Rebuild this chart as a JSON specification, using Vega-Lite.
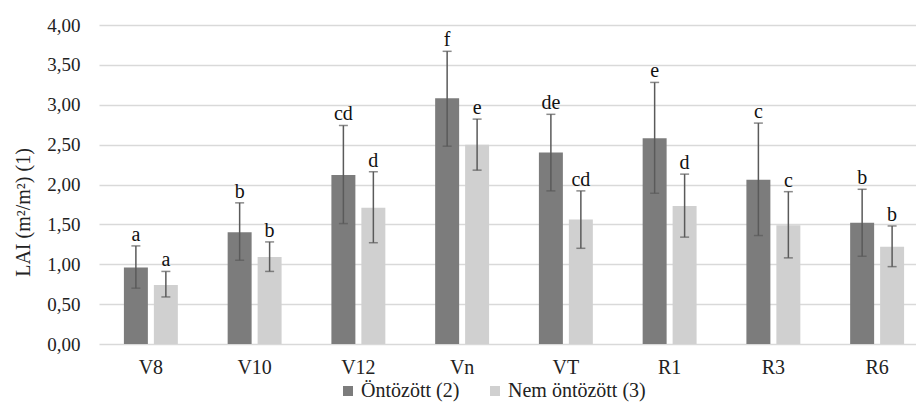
{
  "$schema": "https://vega.github.io/schema/vega-lite/v6.json",
  "width": 817,
  "height": 319,
  "autosize": "none",
  "padding": {"left": 99, "top": 25, "right": 0, "bottom": 59},
  "background": "white",
  "config": {
    "view": {"stroke": null},
    "font": "Liberation Serif",
    "legend": {"labelFont": "Liberation Serif", "labelFontSize": 20, "labelColor": "#222222"},
    "axis": {"labelFont": "Liberation Serif", "titleFont": "Liberation Serif"}
  },
  "data": {
    "values": [
      {"cat": "V8", "series": "Öntözött (2)", "value": 0.96, "lo": 0.70, "hi": 1.23, "letter": "a"},
      {"cat": "V8", "series": "Nem öntözött (3)", "value": 0.74, "lo": 0.59, "hi": 0.91, "letter": "a"},
      {"cat": "V10", "series": "Öntözött (2)", "value": 1.40, "lo": 1.05, "hi": 1.77, "letter": "b"},
      {"cat": "V10", "series": "Nem öntözött (3)", "value": 1.09, "lo": 0.91, "hi": 1.28, "letter": "b"},
      {"cat": "V12", "series": "Öntözött (2)", "value": 2.12, "lo": 1.51, "hi": 2.74, "letter": "cd"},
      {"cat": "V12", "series": "Nem öntözött (3)", "value": 1.71, "lo": 1.27, "hi": 2.16, "letter": "d"},
      {"cat": "Vn", "series": "Öntözött (2)", "value": 3.08, "lo": 2.48, "hi": 3.67, "letter": "f"},
      {"cat": "Vn", "series": "Nem öntözött (3)", "value": 2.50, "lo": 2.18, "hi": 2.82, "letter": "e"},
      {"cat": "VT", "series": "Öntözött (2)", "value": 2.40, "lo": 1.92, "hi": 2.88, "letter": "de"},
      {"cat": "VT", "series": "Nem öntözött (3)", "value": 1.56, "lo": 1.20, "hi": 1.92, "letter": "cd"},
      {"cat": "R1", "series": "Öntözött (2)", "value": 2.58, "lo": 1.89, "hi": 3.28, "letter": "e"},
      {"cat": "R1", "series": "Nem öntözött (3)", "value": 1.73, "lo": 1.34, "hi": 2.13, "letter": "d"},
      {"cat": "R3", "series": "Öntözött (2)", "value": 2.06, "lo": 1.36, "hi": 2.77, "letter": "c"},
      {"cat": "R3", "series": "Nem öntözött (3)", "value": 1.49, "lo": 1.08, "hi": 1.91, "letter": "c"},
      {"cat": "R6", "series": "Öntözött (2)", "value": 1.52, "lo": 1.10, "hi": 1.94, "letter": "b"},
      {"cat": "R6", "series": "Nem öntözött (3)", "value": 1.22, "lo": 0.97, "hi": 1.48, "letter": "b"}
    ]
  },
  "encoding": {
    "x": {
      "field": "cat",
      "type": "nominal",
      "sort": ["V8", "V10", "V12", "Vn", "VT", "R1", "R3", "R6"],
      "scale": {"range": [0, 830], "paddingInner": 0.48, "paddingOuter": 0.24},
      "axis": {
        "title": null,
        "labelAngle": 0,
        "labelFontSize": 20,
        "labelColor": "#222222",
        "labelPadding": 13,
        "ticks": false,
        "domain": false
      }
    },
    "xOffset": {
      "field": "series",
      "type": "nominal",
      "sort": ["Öntözött (2)", "Nem öntözött (3)"],
      "scale": {"paddingInner": 0.2, "paddingOuter": 0}
    }
  },
  "layer": [
    {
      "mark": {"type": "bar"},
      "encoding": {
        "y": {
          "field": "value",
          "type": "quantitative",
          "scale": {"domain": [0, 4]},
          "axis": {
            "title": "LAI (m²/m²) (1)",
            "titleFontSize": 20,
            "titleFontWeight": "normal",
            "titleColor": "#222222",
            "titleX": -66,
            "titleY": 187,
            "titleBaseline": "bottom",
            "titleAlign": "center",
            "values": [0, 0.5, 1, 1.5, 2, 2.5, 3, 3.5, 4],
            "labelOverlap": false,
            "labelExpr": "replace(format(datum.value, '.2f'), '.', ',')",
            "labelFontSize": 19,
            "labelColor": "#222222",
            "labelPadding": 19,
            "ticks": false,
            "domain": false,
            "grid": true,
            "gridColor": "#d9d9d9",
            "gridWidth": 1.5
          }
        },
        "color": {
          "field": "series",
          "type": "nominal",
          "sort": ["Öntözött (2)", "Nem öntözött (3)"],
          "scale": {"domain": ["Öntözött (2)", "Nem öntözött (3)"], "range": ["#7c7c7c", "#d0d0d0"]},
          "legend": {
            "title": null,
            "orient": "none",
            "direction": "horizontal",
            "legendX": 239,
            "legendY": 356,
            "symbolType": "square",
            "symbolSize": 100,
            "symbolStrokeWidth": 0,
            "labelFontSize": 20,
            "labelColor": "#222222",
            "labelOffset": 3,
            "columnPadding": 25
          }
        }
      }
    },
    {
      "mark": {"type": "rule", "color": "#5a5a5a", "strokeWidth": 1.5},
      "encoding": {
        "y": {"field": "lo", "type": "quantitative", "axis": {
            "title": "LAI (m²/m²) (1)",
            "titleFontSize": 20,
            "titleFontWeight": "normal",
            "titleColor": "#222222",
            "titleX": -66,
            "titleY": 187,
            "titleBaseline": "bottom",
            "titleAlign": "center",
            "values": [0, 0.5, 1, 1.5, 2, 2.5, 3, 3.5, 4],
            "labelOverlap": false,
            "labelExpr": "replace(format(datum.value, '.2f'), '.', ',')",
            "labelFontSize": 19,
            "labelColor": "#222222",
            "labelPadding": 19,
            "ticks": false,
            "domain": false,
            "grid": true,
            "gridColor": "#d9d9d9",
            "gridWidth": 1.5
          }},
        "y2": {"field": "hi"}
      }
    },
    {
      "mark": {"type": "tick", "color": "#5a5a5a", "thickness": 1.5, "size": 9},
      "encoding": {
        "y": {"field": "hi", "type": "quantitative", "axis": {
            "title": "LAI (m²/m²) (1)",
            "titleFontSize": 20,
            "titleFontWeight": "normal",
            "titleColor": "#222222",
            "titleX": -66,
            "titleY": 187,
            "titleBaseline": "bottom",
            "titleAlign": "center",
            "values": [0, 0.5, 1, 1.5, 2, 2.5, 3, 3.5, 4],
            "labelOverlap": false,
            "labelExpr": "replace(format(datum.value, '.2f'), '.', ',')",
            "labelFontSize": 19,
            "labelColor": "#222222",
            "labelPadding": 19,
            "ticks": false,
            "domain": false,
            "grid": true,
            "gridColor": "#d9d9d9",
            "gridWidth": 1.5
          }}
      }
    },
    {
      "mark": {"type": "tick", "color": "#5a5a5a", "thickness": 1.5, "size": 9},
      "encoding": {
        "y": {"field": "lo", "type": "quantitative", "axis": {
            "title": "LAI (m²/m²) (1)",
            "titleFontSize": 20,
            "titleFontWeight": "normal",
            "titleColor": "#222222",
            "titleX": -66,
            "titleY": 187,
            "titleBaseline": "bottom",
            "titleAlign": "center",
            "values": [0, 0.5, 1, 1.5, 2, 2.5, 3, 3.5, 4],
            "labelOverlap": false,
            "labelExpr": "replace(format(datum.value, '.2f'), '.', ',')",
            "labelFontSize": 19,
            "labelColor": "#222222",
            "labelPadding": 19,
            "ticks": false,
            "domain": false,
            "grid": true,
            "gridColor": "#d9d9d9",
            "gridWidth": 1.5
          }}
      }
    },
    {
      "mark": {"type": "text", "baseline": "alphabetic", "dy": -5, "fontSize": 20, "font": "Liberation Serif", "color": "#111111"},
      "encoding": {
        "y": {"field": "hi", "type": "quantitative", "axis": {
            "title": "LAI (m²/m²) (1)",
            "titleFontSize": 20,
            "titleFontWeight": "normal",
            "titleColor": "#222222",
            "titleX": -66,
            "titleY": 187,
            "titleBaseline": "bottom",
            "titleAlign": "center",
            "values": [0, 0.5, 1, 1.5, 2, 2.5, 3, 3.5, 4],
            "labelOverlap": false,
            "labelExpr": "replace(format(datum.value, '.2f'), '.', ',')",
            "labelFontSize": 19,
            "labelColor": "#222222",
            "labelPadding": 19,
            "ticks": false,
            "domain": false,
            "grid": true,
            "gridColor": "#d9d9d9",
            "gridWidth": 1.5
          }},
        "text": {"field": "letter"},
        "fontWeight": {
          "condition": {"test": "datum.cat === 'Vn'", "value": "bold"},
          "value": "normal"
        }
      }
    }
  ]
}
